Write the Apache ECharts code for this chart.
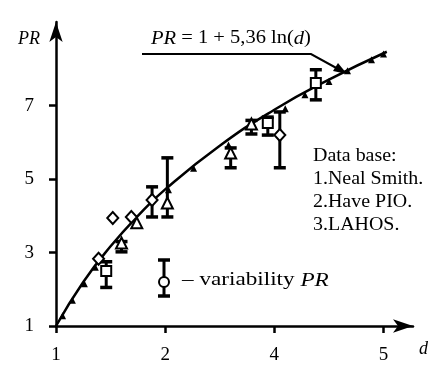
<!DOCTYPE html>
<html>
<head>
<meta charset="utf-8">
<script src="https://cdn.jsdelivr.net/npm/echarts@6/dist/echarts.min.js"></script>
<style>
  html, body { margin: 0; padding: 0; background: #fff; }
  #chart { width: 431px; height: 365px; }
</style>
</head>
<body>
<div id="chart"></div>
<script>
// x axis runs in tick units; the printed tick labels are 1, 2, 4, 5
const xTickValues = [1, 2, 3, 4];
const xTickLabels = ['1', '2', '4', '5'];
const yTickValues = [1, 3, 5, 7];

// fitted curve PR = 1 + 5,36 ln(d)
const curveD = [1, 1.25, 1.5, 1.75, 2, 2.5, 3, 3.5, 4.03];
const curvePR = [1, 2.2, 3.17, 4.0, 4.72, 5.91, 6.89, 7.71, 8.47];

// small filled markers along the curve
const solidD = [1.06, 1.15, 1.26, 1.36, 2.03, 2.26, 2.58, 3.10, 3.28, 3.50, 3.67, 3.89, 4.0];
const solidPR = [1.28, 1.7, 2.15, 2.6, 4.71, 5.3, 5.93, 6.92, 7.3, 7.66, 7.95, 8.25, 8.41];

// open triangles
const triD = [1.60, 1.74, 2.02, 2.60, 2.79];
const triPR = [3.26, 3.81, 4.35, 5.71, 6.5];

// open squares
const sqD = [1.46, 2.94, 3.38];
const sqPR = [2.5, 6.53, 7.62];

// open diamonds
const diaD = [1.39, 1.52, 1.69, 1.88, 3.05];
const diaPR = [2.83, 3.94, 3.97, 4.43, 6.2];

// variability bars
const errD = [1.46, 1.60, 1.88, 2.02, 2.60, 2.79, 2.94, 3.05, 3.38];
const errLow = [2.05, 3.02, 3.97, 3.97, 5.31, 6.23, 6.2, 5.31, 7.16];
const errHigh = [2.75, 3.3, 4.79, 5.58, 5.85, 6.6, 6.69, 6.83, 7.98];

const FONT = 'Liberation Serif';

const zip = (a, b) => a.map((v, i) => [v, b[i]]);

const chart = echarts.init(document.getElementById('chart'));

const openStyle = { color: '#fff', borderColor: '#000', borderWidth: 2, opacity: 1 };
const tickFont = { fontFamily: FONT, fontSize: 19, color: '#000' };

const option = {
  animation: false,
  backgroundColor: '#fff',
  textStyle: { fontFamily: FONT, color: '#000' },
  grid: { left: 56, right: 14, top: 22, bottom: 39 },
  xAxis: {
    type: 'value',
    min: 1,
    max: 4.27,
    interval: 1,
    name: 'd',
    nameLocation: 'end',
    nameGap: 6,
    nameTextStyle: { fontFamily: FONT, fontStyle: 'italic', fontSize: 18, color: '#000', verticalAlign: 'top', padding: [14, 0, 0, 0] },
    axisLine: { lineStyle: { color: '#000', width: 2.5 }, symbol: ['none', 'arrow'], symbolSize: [10, 20] },
    axisTick: { customValues: xTickValues, length: 7, lineStyle: { color: '#000', width: 2.5 } },
    axisLabel: Object.assign({
      customValues: xTickValues,
      margin: 20,
      formatter: v => xTickLabels[xTickValues.indexOf(v)] || ''
    }, tickFont),
    splitLine: { show: false }
  },
  yAxis: {
    type: 'value',
    min: 1,
    max: 9.28,
    interval: 2,
    name: 'PR',
    nameLocation: 'end',
    nameGap: -26,
    nameTextStyle: { fontFamily: FONT, fontStyle: 'italic', fontSize: 18, color: '#000', align: 'right', padding: [0, 16, 0, 0] },
    axisLine: { lineStyle: { color: '#000', width: 2.5 }, symbol: ['none', 'arrow'], symbolSize: [10, 20] },
    axisTick: { customValues: yTickValues, length: 7, lineStyle: { color: '#000', width: 2.5 } },
    axisLabel: Object.assign({ customValues: yTickValues, margin: 22 }, tickFont),
    splitLine: { show: false }
  },
  series: [
    {
      name: 'curve',
      type: 'line',
      smooth: true,
      showSymbol: false,
      data: zip(curveD, curvePR),
      lineStyle: { color: '#000', width: 2.5 },
      z: 2
    },
    {
      name: 'variability',
      type: 'custom',
      data: errD.map((d, i) => [d, errLow[i], errHigh[i]]),
      renderItem: (params, api) => {
        const lo = api.coord([api.value(0), api.value(1)]);
        const hi = api.coord([api.value(0), api.value(2)]);
        const cap = 6;
        return {
          type: 'group',
          children: [
            { type: 'line', shape: { x1: lo[0], y1: lo[1], x2: hi[0], y2: hi[1] }, style: { stroke: '#000', lineWidth: 3 } },
            { type: 'line', shape: { x1: lo[0] - cap, y1: lo[1], x2: lo[0] + cap, y2: lo[1] }, style: { stroke: '#000', lineWidth: 3.5 } },
            { type: 'line', shape: { x1: hi[0] - cap, y1: hi[1], x2: hi[0] + cap, y2: hi[1] }, style: { stroke: '#000', lineWidth: 3.5 } }
          ]
        };
      },
      z: 3
    },
    {
      name: 'solid',
      type: 'scatter',
      symbol: 'triangle',
      symbolSize: 7,
      data: zip(solidD, solidPR),
      itemStyle: { color: '#000', opacity: 1 },
      z: 4
    },
    {
      name: 'triangle',
      type: 'scatter',
      symbol: 'triangle',
      symbolSize: 11,
      data: zip(triD, triPR),
      itemStyle: openStyle,
      z: 5
    },
    {
      name: 'square',
      type: 'scatter',
      symbol: 'rect',
      symbolSize: 10,
      data: zip(sqD, sqPR),
      itemStyle: openStyle,
      z: 5
    },
    {
      name: 'diamond',
      type: 'scatter',
      symbol: 'diamond',
      symbolSize: [11, 12],
      data: zip(diaD, diaPR),
      itemStyle: openStyle,
      z: 5
    }
  ],
  graphic: [
    // equation with its pointer
    {
      type: 'text',
      left: 151,
      top: 29,
      scaleX: 1.08,
      style: {
        text: '{i|PR} = 1 + 5,36 ln({i|d})',
        font: '19px ' + FONT,
        fill: '#000',
        rich: { i: { fontStyle: 'italic', fontSize: 19, fontFamily: FONT } }
      }
    },
    { type: 'polyline', shape: { points: [[142, 54], [311, 54], [340, 70]] }, style: { stroke: '#000', lineWidth: 2, fill: null } },
    { type: 'polygon', shape: { points: [[347, 74], [333, 71], [338, 63]] }, style: { fill: '#000' } },
    // data base note
    {
      type: 'text',
      left: 313,
      top: 145,
      scaleX: 1.05,
      style: {
        text: 'Data base:\n1.Neal Smith.\n2.Have PIO.\n3.LAHOS.',
        font: '19px ' + FONT,
        lineHeight: 23,
        fill: '#000'
      }
    },
    // variability key
    { type: 'line', shape: { x1: 164, y1: 260, x2: 164, y2: 296 }, style: { stroke: '#000', lineWidth: 3 } },
    { type: 'line', shape: { x1: 158, y1: 260, x2: 170, y2: 260 }, style: { stroke: '#000', lineWidth: 3.5 } },
    { type: 'line', shape: { x1: 158, y1: 296, x2: 170, y2: 296 }, style: { stroke: '#000', lineWidth: 3.5 } },
    { type: 'circle', shape: { cx: 164, cy: 282, r: 5 }, style: { fill: '#fff', stroke: '#000', lineWidth: 2 } },
    {
      type: 'text',
      left: 182,
      top: 271,
      scaleX: 1.22,
      style: {
        text: '– variability {i|PR}',
        font: '19px ' + FONT,
        fill: '#000',
        rich: { i: { fontStyle: 'italic', fontSize: 19, fontFamily: FONT } }
      }
    }
  ]
};

chart.setOption(option);
</script>
</body>
</html>
